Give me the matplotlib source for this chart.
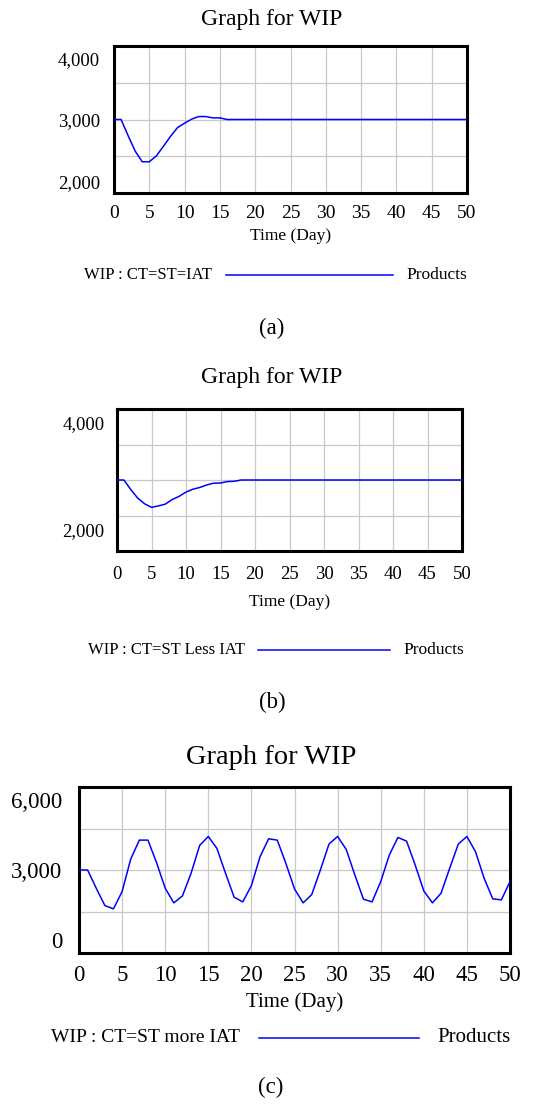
"""
WIP graphs for three CT/ST/IAT scenarios (Vensim style)
"""
import matplotlib
matplotlib.use('Agg')
import matplotlib.pyplot as plt
from matplotlib.lines import Line2D
from matplotlib.transforms import ScaledTranslation

plt.rcParams['font.family'] = ['Liberation Serif', 'DejaVu Serif']

# time axis (days)
days = list(range(0, 51))

# (a) CT=ST=IAT
wip_a = [3000, 3000, 2780, 2570, 2425, 2425, 2505, 2635, 2770, 2890,
         2950, 3005, 3040, 3040, 3022, 3022, 3000] + [3000] * 34

# (b) CT=ST Less IAT
wip_b = [3000, 3000, 2865, 2745, 2665, 2615, 2635, 2660, 2725, 2770,
         2830, 2870, 2895, 2930, 2955, 2958, 2978, 2982, 3000] + [3000] * 32

# (c) CT=ST more IAT
wip_c = [3000, 3000, 2340, 1716, 1596, 2220, 3396, 4080, 4080, 3264,
         2340, 1812, 2064, 2880, 3888, 4212, 3780, 2880, 2016, 1848,
         2436, 3480, 4128, 4080, 3240, 2316, 1812, 2112, 3000, 3936,
         4212, 3744, 2820, 1944, 1848, 2580, 3540, 4176, 4044, 3180,
         2244, 1812, 2160, 3060, 3936, 4212, 3660, 2700, 1956, 1920,
         2580]

xticks = list(range(0, 51, 5))
yticks_a = [2000, 2500, 3000, 3500, 4000]
ylabels_a = ['2,000', '', '3,000', '', '4,000']
yticks_b = [2000, 2500, 3000, 3500, 4000]
ylabels_b = ['2,000', '', '', '', '4,000']
yticks_c = [0, 1500, 3000, 4500, 6000]
ylabels_c = ['0', '', '3,000', '', '6,000']

legend_a = 'WIP : CT=ST=IAT'
legend_b = 'WIP : CT=ST Less IAT'
legend_c = 'WIP : CT=ST more IAT'

W, H = 534, 1116
fig = plt.figure(figsize=(W / 100, H / 100), dpi=100)


def px(x, y):
    # pixel position (from top-left) to figure fraction
    return x / W, 1 - y / H


def draw_panel(box, wip, yticks, ylabels, shifts, fs):
    l, t, r, b = box
    ax = fig.add_axes([l / W, 1 - b / H, (r - l) / W, (b - t) / H])
    ax.plot(days, wip, color='#0000ff', lw=1.1, zorder=3)
    ax.set_xlim(0, 50)
    ax.set_ylim(yticks[0], yticks[-1])
    ax.set_xticks(xticks)
    ax.set_yticks(yticks)
    ax.set_yticklabels(ylabels)
    ax.grid(True, color='#c8c8c8', lw=0.9)
    ax.set_axisbelow(True)
    for s in ax.spines.values():
        s.set_linewidth(2.2)
        s.set_color('black')
    ax.tick_params(length=0, labelsize=fs['tick'])
    ax.tick_params(axis='x', pad=fs['xpad'])
    ax.tick_params(axis='y', pad=fs['ypad'], labelsize=fs['ytick'])
    # vensim-style: end labels pulled inside the frame
    for lab, dy in zip(ax.get_yticklabels(), shifts):
        lab.set_transform(lab.get_transform() +
                          ScaledTranslation(0, dy / 100, fig.dpi_scale_trans))
    ax.set_xlabel('Time (Day)', fontsize=fs['xlabel'], labelpad=fs['lpad'])
    return ax


# (a)
draw_panel((114, 46, 467, 193), wip_a, yticks_a, ylabels_a,
           [11, 0, 0, 0, -13],
           dict(tick=14, ytick=13.5, xpad=9, ypad=10, xlabel=12.5, lpad=4))
fig.text(*px(272, 20), 'Graph for WIP', fontsize=17, ha='center', va='center')
fig.text(*px(212, 275), legend_a, fontsize=12, ha='right', va='center')
fig.add_artist(Line2D([226 / W, 393 / W], [1 - 275 / H] * 2, color='#0000ff', lw=1.1))
fig.text(*px(406, 275), 'Products', fontsize=12.5, ha='left', va='center')
fig.text(*px(272, 328), '(a)', fontsize=16.5, ha='center', va='center')

# (b)
draw_panel((117, 409, 462, 551), wip_b, yticks_b, ylabels_b,
           [21, 0, 0, 0, -14],
           dict(tick=13.5, ytick=13.5, xpad=10.5, ypad=9, xlabel=12.5, lpad=8))
fig.text(*px(272, 378), 'Graph for WIP', fontsize=17, ha='center', va='center')
fig.text(*px(245, 650), legend_b, fontsize=12, ha='right', va='center')
fig.add_artist(Line2D([258 / W, 390 / W], [1 - 650 / H] * 2, color='#0000ff', lw=1.1))
fig.text(*px(403, 650), 'Products', fontsize=12.5, ha='left', va='center')
fig.text(*px(272, 702), '(b)', fontsize=16.5, ha='center', va='center')

# (c)
draw_panel((79, 787, 510, 953), wip_c, yticks_c, ylabels_c,
           [13, 0, 0, 0, -13],
           dict(tick=16.5, ytick=16.5, xpad=8.5, ypad=12, xlabel=15, lpad=4.5))
fig.text(*px(271, 757), 'Graph for WIP', fontsize=20.5, ha='center', va='center')
fig.text(*px(240, 1038), legend_c, fontsize=14, ha='right', va='center')
fig.add_artist(Line2D([259 / W, 419 / W], [1 - 1038 / H] * 2, color='#0000ff', lw=1.1))
fig.text(*px(437, 1038), 'Products', fontsize=15, ha='left', va='center')
fig.text(*px(271, 1087), '(c)', fontsize=16.5, ha='center', va='center')

plt.savefig('out.png', dpi=100, facecolor='white')
